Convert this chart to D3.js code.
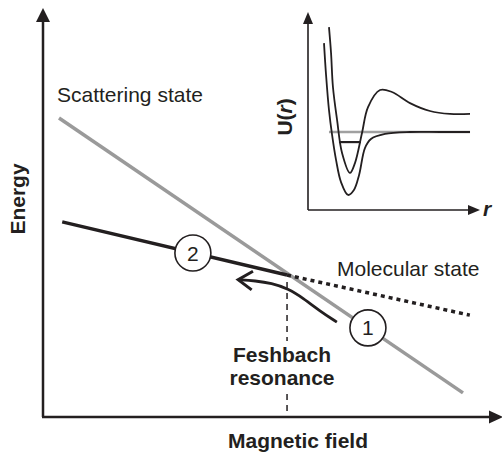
<!DOCTYPE html>
<html><head><meta charset="utf-8">
<script src="https://cdn.jsdelivr.net/npm/d3@7"></script>
<style>html,body{margin:0;padding:0;background:#fff}svg{display:block}text{font-family:"Liberation Sans",Arial,sans-serif;fill:#231f20}</style>
</head><body>
<script>
// ---- data (abstract units, 0..100) ----
const scattering = [[3.5, 73.1], [91.9, 5.9]];            // [B, E]
const molecularSolid = [[4.2, 47.7], [53.4, 34.7]];
const molecularDotted = [[53.4, 34.7], [93.4, 24.9]];
const resonanceB = 53.4;
const arrowPath = [[64.3, 23.2], [60.6, 25.9], [57.0, 29.0], [53.6, 31.4], [50.0, 32.7], [46.5, 33.3], [42.7, 33.6]];
const markers = [{label: "2", B: 32.8, E: 40.1}, {label: "1", B: 71.1, E: 21.8}];
const labels = {scattering: "Scattering state", molecular: "Molecular state", res1: "Feshbach", res2: "resonance", xTitle: "Magnetic field", yTitle: "Energy"};
// inset potentials [r, U]
const closedChannel = [[12.2, 92.4], [13.4, 79.3], [14.5, 62.1], [16.9, 45.5], [19.8, 28.8], [24.4, 18.7], [27.3, 23.7], [31.4, 38.9], [34.9, 52.0], [41.9, 60.6], [48.8, 59.6], [59.3, 54.0], [70.9, 50.0], [82.6, 48.5], [94.2, 48.5]];
const openChannel = [[9.3, 84.3], [10.5, 68.2], [12.2, 50.5], [14.0, 37.9], [16.3, 25.3], [19.2, 14.1], [23.3, 7.6], [26.7, 10.1], [29.7, 17.7], [33.1, 31.3], [36.6, 35.9], [44.8, 38.4], [59.3, 39.4], [76.7, 39.4], [94.2, 39.4]];
const thresholdLevel = {r0: 12.2, r1: 94.2, U: 39.4};
const boundLevel = {r0: 18.0, r1: 30.8, U: 34.3};

const W = 502, H = 453, ink = "#231f20";
const svg = d3.select("body").append("svg").attr("width", W).attr("height", H);

// main scales
const x = d3.scaleLinear().domain([0, 100]).range([43, 500]);
const y = d3.scaleLinear().domain([0, 100]).range([417, 8]);
// inset scales
const xr = d3.scaleLinear().domain([0, 100]).range([308, 480]);
const yu = d3.scaleLinear().domain([0, 100]).range([210, 12]);

const lineMain = d3.line().x(d => x(d[0])).y(d => y(d[1]));

// main axes
svg.append("line").attr("x1", x(0)).attr("y1", y(0)).attr("x2", x(0)).attr("y2", y(100) + 10).attr("stroke", ink).attr("stroke-width", 2.5);
svg.append("path").attr("d", `M${x(0)},${y(100)} L${x(0) - 7},${y(100) + 14} L${x(0) + 7},${y(100) + 14} Z`).attr("fill", ink);
svg.append("line").attr("x1", x(0) - 1).attr("y1", y(0)).attr("x2", W - 10).attr("y2", y(0)).attr("stroke", ink).attr("stroke-width", 2.5);
svg.append("path").attr("d", `M${W + 1},${y(0)} L${W - 13},${y(0) - 6.5} L${W - 13},${y(0) + 6.5} Z`).attr("fill", ink);

// resonance dashed line
svg.append("line").attr("x1", x(resonanceB)).attr("x2", x(resonanceB)).attr("y1", y(34.7) + 7).attr("y2", 341)
  .attr("stroke", ink).attr("stroke-width", 1.5).attr("stroke-dasharray", "6,5");
svg.append("line").attr("x1", x(resonanceB)).attr("x2", x(resonanceB)).attr("y1", 394).attr("y2", y(0))
  .attr("stroke", ink).attr("stroke-width", 1.5).attr("stroke-dasharray", "6,5");

// scattering state
svg.append("path").attr("d", lineMain(scattering)).attr("stroke", "#9a9a9a").attr("stroke-width", 3.5).attr("fill", "none");
// molecular state
svg.append("path").attr("d", lineMain(molecularSolid)).attr("stroke", ink).attr("stroke-width", 3.5).attr("fill", "none");
svg.append("path").attr("d", lineMain(molecularDotted)).attr("stroke", ink).attr("stroke-width", 3.5).attr("fill", "none").attr("stroke-dasharray", "4,4");

// arrow
const arrowLine = d3.line().x(d => x(d[0])).y(d => y(d[1])).curve(d3.curveBasis);
svg.append("path").attr("d", arrowLine(arrowPath)).attr("stroke", ink).attr("stroke-width", 2.8).attr("fill", "none");
{
  const n = arrowPath.length;
  const tx = x(arrowPath[n - 1][0]), ty = y(arrowPath[n - 1][1]);
  const px = x(arrowPath[n - 2][0]), py = y(arrowPath[n - 2][1]);
  const a = Math.atan2(ty - py, tx - px);
  const L = 17, sp = 0.58;
  const b1 = [tx - L * Math.cos(a - sp), ty - L * Math.sin(a - sp)];
  const b2 = [tx - L * Math.cos(a + sp), ty - L * Math.sin(a + sp)];
  svg.append("path").attr("d", `M${b1[0]},${b1[1]} L${tx},${ty} L${b2[0]},${b2[1]}`).attr("stroke", ink).attr("stroke-width", 3).attr("fill", "none").attr("stroke-linejoin", "miter");
}

// numbered circles
const g = svg.selectAll("g.mk").data(markers).enter().append("g").attr("transform", d => `translate(${x(d.B)},${y(d.E)})`);
g.append("circle").attr("r", 18).attr("fill", "#fff").attr("stroke", ink).attr("stroke-width", 1.6);
g.append("text").attr("text-anchor", "middle").attr("dy", "0.36em").attr("font-size", 21).text(d => d.label);

// main labels
svg.append("text").attr("x", 57).attr("y", 102).attr("font-size", 21).text(labels.scattering);
svg.append("text").attr("x", 337).attr("y", 276).attr("font-size", 21).text(labels.molecular);
svg.append("text").attr("x", 282).attr("y", 362).attr("font-size", 21).attr("font-weight", "bold").attr("text-anchor", "middle").text(labels.res1);
svg.append("text").attr("x", 282).attr("y", 385).attr("font-size", 21).attr("font-weight", "bold").attr("text-anchor", "middle").text(labels.res2);
svg.append("text").attr("x", 298).attr("y", 448).attr("font-size", 21).attr("font-weight", "bold").attr("text-anchor", "middle").text(labels.xTitle);
svg.append("text").attr("transform", "translate(25,199) rotate(-90)").attr("font-size", 21).attr("font-weight", "bold").attr("text-anchor", "middle").text(labels.yTitle);

// ---- inset ----
const lineIn = d3.line().x(d => xr(d[0])).y(d => yu(d[1])).curve(d3.curveCatmullRom.alpha(0.5));
svg.append("line").attr("x1", xr(0)).attr("y1", yu(0)).attr("x2", xr(0)).attr("y2", yu(100) + 8).attr("stroke", ink).attr("stroke-width", 1.6);
svg.append("path").attr("d", `M${xr(0)},${yu(100)} L${xr(0) - 5},${yu(100) + 12} L${xr(0) + 5},${yu(100) + 12} Z`).attr("fill", ink);
svg.append("line").attr("x1", xr(0)).attr("y1", yu(0)).attr("x2", xr(100) - 8).attr("y2", yu(0)).attr("stroke", ink).attr("stroke-width", 1.6);
svg.append("path").attr("d", `M${xr(100)},${yu(0)} L${xr(100) - 12},${yu(0) - 5} L${xr(100) - 12},${yu(0) + 5} Z`).attr("fill", ink);

svg.append("line").attr("x1", xr(thresholdLevel.r0)).attr("x2", xr(thresholdLevel.r1)).attr("y1", yu(thresholdLevel.U)).attr("y2", yu(thresholdLevel.U))
  .attr("stroke", "#a0a0a0").attr("stroke-width", 2.5);
svg.append("line").attr("x1", xr(boundLevel.r0)).attr("x2", xr(boundLevel.r1)).attr("y1", yu(boundLevel.U)).attr("y2", yu(boundLevel.U))
  .attr("stroke", ink).attr("stroke-width", 2.2);
svg.append("path").attr("d", lineIn(closedChannel)).attr("stroke", ink).attr("stroke-width", 1.8).attr("fill", "none");
svg.append("path").attr("d", lineIn(openChannel)).attr("stroke", ink).attr("stroke-width", 1.8).attr("fill", "none");

const ut = svg.append("text").attr("transform", `translate(292,${yu(47)}) rotate(-90)`).attr("font-size", 21).attr("font-weight", "bold").attr("text-anchor", "middle");
ut.append("tspan").text("U(");
ut.append("tspan").attr("font-style", "italic").text("r");
ut.append("tspan").text(")");
svg.append("text").attr("x", 483).attr("y", 216).attr("font-size", 21).attr("font-weight", "bold").attr("font-style", "italic").text("r");
</script>
</body></html>
